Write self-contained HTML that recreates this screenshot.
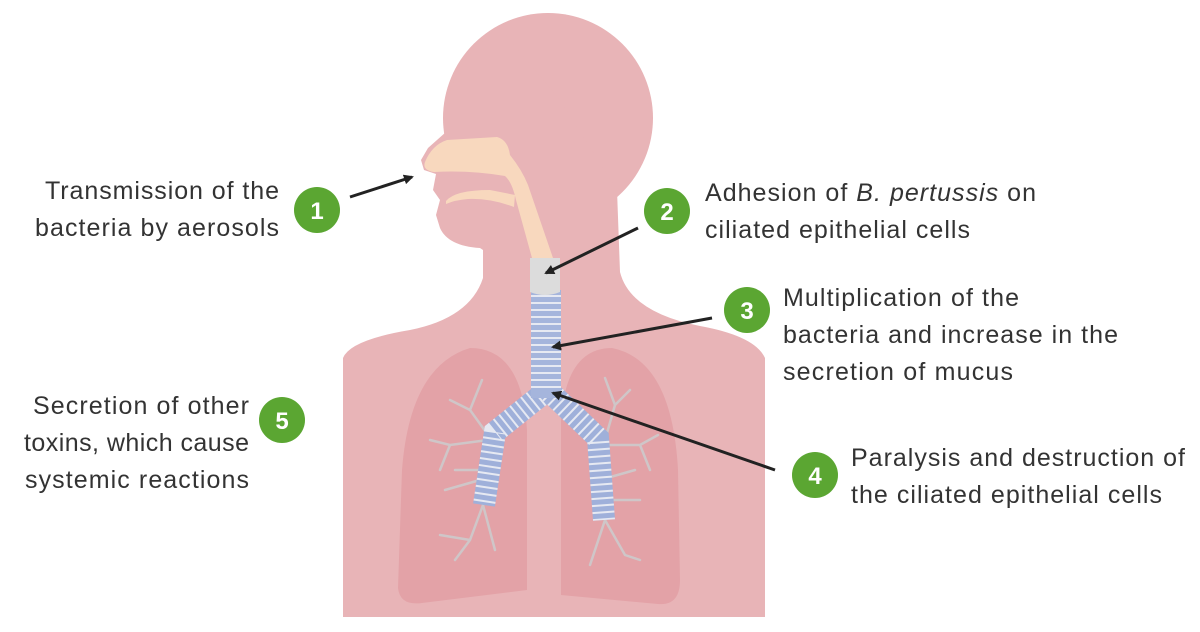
<!DOCTYPE html>
<html><head><meta charset="utf-8"><style>
html,body{margin:0;padding:0;background:#fff;}
svg{display:block}
text{font-family:"Liberation Sans",sans-serif;fill:#333;font-size:25px}
.n{fill:#fff;font-weight:bold;font-size:24px;text-anchor:middle}
</style></head><body>
<svg width="1200" height="632" viewBox="0 0 1200 632" xmlns="http://www.w3.org/2000/svg">
<defs>
<marker id="ah" markerWidth="10" markerHeight="10" refX="8" refY="5" orient="auto" markerUnits="userSpaceOnUse"><path d="M0,0 L10,5 L0,10 Z" fill="#222"/></marker>
</defs>
<g fill="#e8b4b7">
<circle cx="548" cy="118" r="105"/>
<path d="M500,28 Q458,55 448,100 L446,132 L428,148 L421,160 L424,170 L436,174 L433,190 L440,200 L436,215 L440,228 Q448,246 480,248 L483,250 L483,278 Q470,318 410,330 Q350,340 343,358 L343,617 L765,617 L765,358 Q755,336 700,326 Q630,312 620,272 L617,190 L560,100 Z"/>
</g>
<g fill="#e3a2a7">
<path d="M470,348 Q410,366 402,470 L398,588 Q400,606 422,603 L527,590 L527,430 Q522,348 470,348 Z"/>
<path d="M612,348 Q566,348 561,420 L561,595 L658,604 Q680,606 680,580 L678,470 Q672,360 612,348 Z"/>
</g>
<g stroke="#cfc6c8" stroke-width="2.5" fill="none" stroke-linecap="round">
<path d="M488,435 L470,410 L482,380 M470,410 L450,400 M488,440 L450,445 L430,440 M450,445 L440,470 M483,505 L470,540 L455,560 M483,505 L495,550 M470,540 L440,535 M480,480 L445,490 M485,470 L455,470"/>
<path d="M605,440 L615,405 L605,378 M615,405 L630,390 M605,445 L640,445 L658,435 M640,445 L650,470 M605,520 L590,565 M605,520 L625,555 L640,560 M605,500 L640,500 M600,480 L635,470"/>
</g>
<g fill="none" stroke-linecap="butt">
<path d="M545,392 L495,432 L484,505" stroke="#9fb0da" stroke-width="22"/>
<path d="M545,392 L495,432 L484,505" stroke="#e6e9f2" stroke-width="22" stroke-dasharray="2 5"/>
<path d="M550,392 L598,438 L604,520" stroke="#9fb0da" stroke-width="22"/>
<path d="M550,392 L598,438 L604,520" stroke="#e6e9f2" stroke-width="22" stroke-dasharray="2 5"/>
</g>
<rect x="531" y="290" width="30" height="108" fill="#a5b5dc"/>
<g stroke="#e6e9f2" stroke-width="2">
<line x1="531" y1="296" x2="561" y2="296"/><line x1="531" y1="303" x2="561" y2="303"/><line x1="531" y1="310" x2="561" y2="310"/><line x1="531" y1="317" x2="561" y2="317"/><line x1="531" y1="324" x2="561" y2="324"/><line x1="531" y1="331" x2="561" y2="331"/><line x1="531" y1="338" x2="561" y2="338"/><line x1="531" y1="345" x2="561" y2="345"/><line x1="531" y1="352" x2="561" y2="352"/><line x1="531" y1="359" x2="561" y2="359"/><line x1="531" y1="366" x2="561" y2="366"/><line x1="531" y1="373" x2="561" y2="373"/><line x1="531" y1="380" x2="561" y2="380"/><line x1="531" y1="387" x2="561" y2="387"/>
</g>
<path d="M425,162 Q432,145 447,140 L497,137 Q508,140 510,155 Q522,170 528,185 L553,258 L532,258 L516,200 Q512,182 505,176 Q470,170 434,172 Q422,170 425,162 Z" fill="#f8d8be"/>
<path d="M446,201 Q455,190 490,190 L515,195 L514,207 Q490,198 468,199 Q455,200 446,204 Z" fill="#f8d8be"/>
<path d="M530,258 L560,258 L560,292 Q545,298 530,292 Z" fill="#dcdcdc"/>
<g stroke="#222" stroke-width="3" marker-end="url(#ah)">
<line x1="350" y1="197" x2="412" y2="177"/>
<line x1="638" y1="228" x2="546" y2="273"/>
<line x1="712" y1="318" x2="553" y2="347"/>
<line x1="775" y1="470" x2="553" y2="393"/>
</g>
<g fill="#5ba632">
<circle cx="317" cy="210" r="23"/><circle cx="667" cy="211" r="23"/><circle cx="747" cy="310" r="23"/><circle cx="815" cy="475" r="23"/><circle cx="282" cy="420" r="23"/>
</g>
<text class="n" x="317" y="219">1</text><text class="n" x="667" y="220">2</text><text class="n" x="747" y="319">3</text><text class="n" x="815" y="484">4</text><text class="n" x="282" y="429">5</text>
<text x="45" y="199" textLength="234" lengthAdjust="spacing">Transmission of the</text>
<text x="35" y="236" textLength="244" lengthAdjust="spacing">bacteria by aerosols</text>
<text x="33" y="414" textLength="216" lengthAdjust="spacing">Secretion of other</text>
<text x="24" y="451" textLength="225" lengthAdjust="spacing">toxins, which cause</text>
<text x="25" y="488" textLength="224" lengthAdjust="spacing">systemic reactions</text>
<text x="705" y="201" textLength="331" lengthAdjust="spacing">Adhesion of <tspan font-style="italic">B. pertussis</tspan> on</text>
<text x="705" y="238" textLength="265" lengthAdjust="spacing">ciliated epithelial cells</text>
<text x="783" y="306" textLength="236" lengthAdjust="spacing">Multiplication of the</text>
<text x="783" y="343" textLength="335" lengthAdjust="spacing">bacteria and increase in the</text>
<text x="783" y="380" textLength="230" lengthAdjust="spacing">secretion of mucus</text>
<text x="851" y="466" textLength="334" lengthAdjust="spacing">Paralysis and destruction of</text>
<text x="851" y="503" textLength="311" lengthAdjust="spacing">the ciliated epithelial cells</text>
</svg>
</body></html>
